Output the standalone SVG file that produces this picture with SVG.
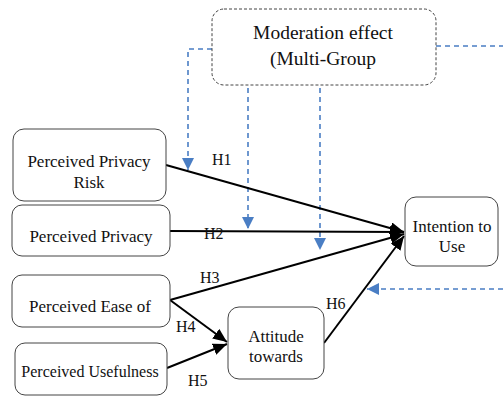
<svg xmlns="http://www.w3.org/2000/svg" width="503" height="396" viewBox="0 0 503 396">
<defs>
<style>
.node{fill:#fff;stroke:#444;stroke-width:1}
.mod{fill:#fff;stroke:#444;stroke-width:1;stroke-dasharray:3 2}
.t{font-family:"Liberation Serif","Times New Roman",serif;font-size:17px;fill:#111;text-anchor:middle}
.h{font-family:"Liberation Serif","Times New Roman",serif;font-size:16px;fill:#111}
.blk{stroke:#000;stroke-width:2;fill:none;marker-end:url(#ab)}
.blu{stroke:#4a7ec4;stroke-width:1.6;fill:none;stroke-dasharray:5 4}
.bluA{marker-end:url(#au)}
</style>
<marker id="ab" markerUnits="userSpaceOnUse" markerWidth="14" markerHeight="12" viewBox="0 0 14 12" refX="14" refY="6" orient="auto"><path d="M0,0 L14,6 L0,12 Z" fill="#000"/></marker>
<marker id="au" markerUnits="userSpaceOnUse" markerWidth="12" markerHeight="12" viewBox="0 0 12 12" refX="12" refY="6" orient="auto"><path d="M0,0 L12,6 L0,12 Z" fill="#4a7ec4"/></marker>
</defs>
<rect width="503" height="396" fill="#fff"/>
<g id="connectors">
<path class="blu bluA" d="M212,49 H188 V170"/>
<path class="blu bluA" d="M248,88 V229"/>
<path class="blu bluA" d="M320,88 V250"/>
<path class="blu" d="M436,46 H503"/>
<path class="blu bluA" d="M503,289 H367"/>
<path class="blk" d="M166,165 L404,232"/>
<path class="blk" d="M170,231 L404,232"/>
<path class="blk" d="M170,300 L404,234"/>
<path class="blk" d="M324,343 L404,236"/>
<path class="blk" d="M170,300 L227,342"/>
<path class="blk" d="M167,368 L227,344"/>
<text class="h" x="212" y="165">H1</text>
<text class="h" x="204" y="239">H2</text>
<text class="h" x="200" y="283">H3</text>
<text class="h" x="176" y="332">H4</text>
<text class="h" x="188" y="386">H5</text>
<text class="h" x="326" y="309">H6</text>
</g>
<g id="moderation">
<rect class="mod" x="212" y="9" width="224" height="76" rx="12"/>
<text class="t" x="323" y="39" style="font-size:19.5px">Moderation effect</text>
<text class="t" x="323" y="65" style="font-size:19.5px">(Multi-Group</text>
</g>
<g id="ppr">
<rect class="node" x="13" y="129" width="153" height="72" rx="11"/>
<text class="t" x="89" y="167">Perceived Privacy</text>
<text class="t" x="89" y="188">Risk</text>
</g>
<g id="pp">
<rect class="node" x="12" y="205" width="158" height="51" rx="10"/>
<text class="t" x="91" y="242">Perceived Privacy</text>
</g>
<g id="peou">
<rect class="node" x="12" y="275" width="158" height="52" rx="10"/>
<text class="t" x="90" y="312">Perceived Ease of</text>
</g>
<g id="pu">
<rect class="node" x="15" y="343" width="152" height="52" rx="10"/>
<text class="t" x="90" y="377" style="font-size:16px">Perceived Usefulness</text>
</g>
<g id="att">
<rect class="node" x="228" y="307" width="96" height="72" rx="11"/>
<text class="t" x="276" y="342">Attitude</text>
<text class="t" x="276" y="362">towards</text>
</g>
<g id="itu">
<rect class="node" x="405" y="197" width="93" height="69" rx="11"/>
<text class="t" x="452" y="232">Intention to</text>
<text class="t" x="452" y="252">Use</text>
</g>
</svg>
